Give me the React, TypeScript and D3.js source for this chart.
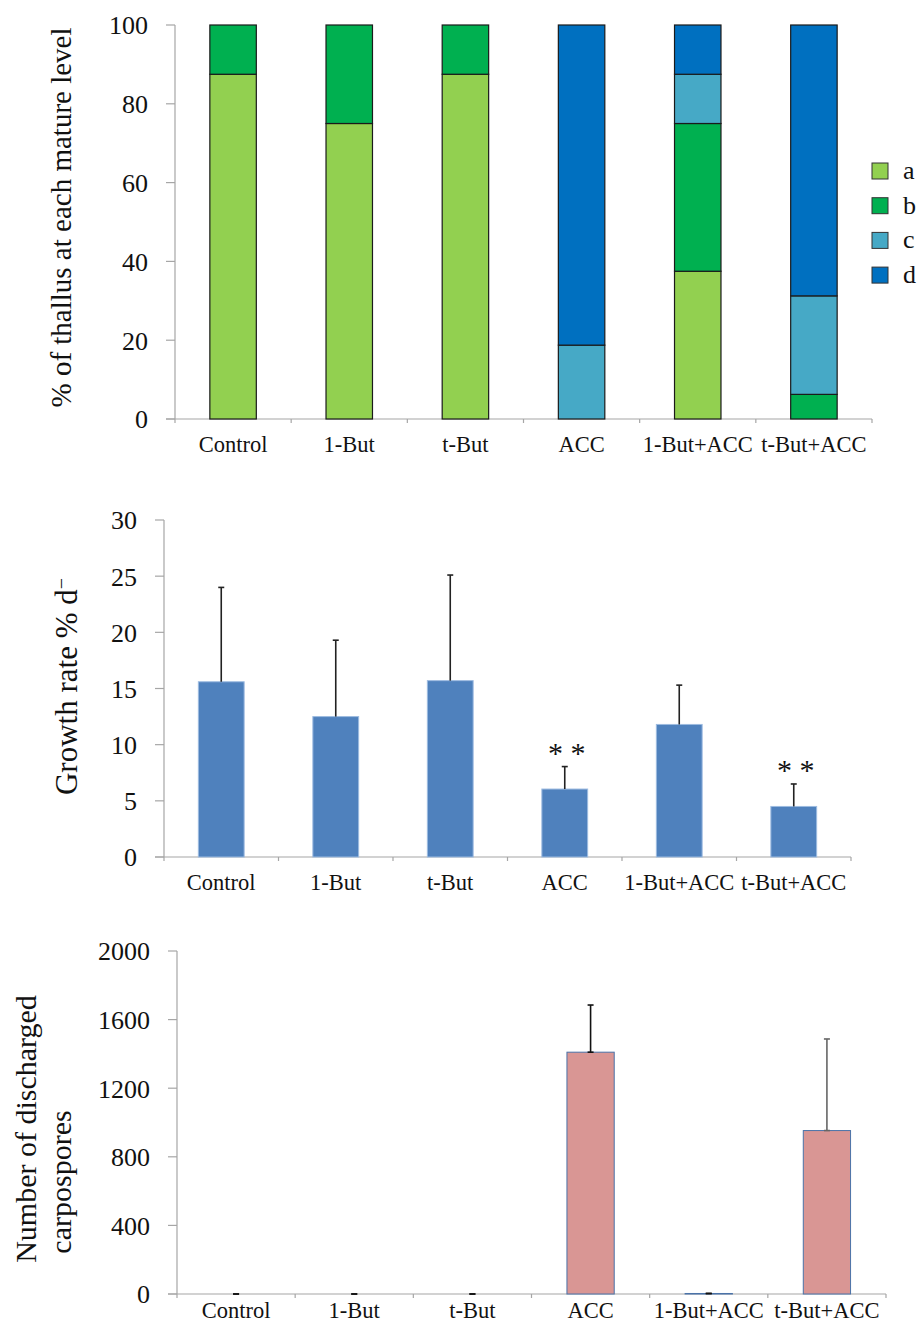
import React from "react";
import * as d3 from "d3";

// Treatments shared by the three panels
const categories = ["Control", "1-But", "t-But", "ACC", "1-But+ACC", "t-But+ACC"];

// Panel A: % of thallus at each maturity level (stacked)
const levelKeys = ["a", "b", "c", "d"];
const levelA = [87.5, 75, 87.5, 0, 37.5, 0];
const levelB = [12.5, 25, 12.5, 0, 37.5, 6.25];
const levelC = [0, 0, 0, 18.75, 12.5, 25];
const levelD = [0, 0, 0, 81.25, 12.5, 68.75];
const levelTicks = [0, 20, 40, 60, 80, 100];

// Panel B: growth rate (mean + SD)
const growthMean = [15.6, 12.5, 15.7, 6.05, 11.8, 4.5];
const growthErr = [8.4, 6.8, 9.4, 2.0, 3.5, 2.0];
const growthTicks = [0, 5, 10, 15, 20, 25, 30];
const significant = ["ACC", "t-But+ACC"];

// Panel C: discharged carpospores (mean + SD)
const carpoMean = [0, 0, 0, 1410, 3, 953];
const carpoErr = [0, 0, 0, 275, 0, 534];
const carpoTicks = [0, 400, 800, 1200, 1600, 2000];

const FONT =
  '"Liberation Serif", "Times New Roman", Times, "Nimbus Roman", "Nimbus Roman No9 L", FreeSerif, "Noto Serif", "DejaVu Serif", Tinos, serif';
const AXIS = "#a6a6a6";
const levelColors: Record<string, string> = {
  a: "#92D050",
  b: "#00B050",
  c: "#46A9C6",
  d: "#0070C0",
};

const txt = (size: number): React.CSSProperties => ({ fontFamily: FONT, fontSize: size });

type Frame = { x0: number; x1: number; y0: number; y1: number };

function Axes({
  f,
  x,
  y,
  ticks,
  labelY,
}: {
  f: Frame;
  x: d3.ScaleBand<string>;
  y: d3.ScaleLinear<number, number>;
  ticks: number[];
  labelY: number;
}) {
  const bounds = categories.map((c) => x(c)!).concat([f.x1]);
  return (
    <g>
      <line x1={f.x0} x2={f.x0} y1={f.y0} y2={f.y1} stroke={AXIS} strokeWidth={1.2} />
      <line x1={f.x0 - 9} x2={f.x1} y1={f.y1} y2={f.y1} stroke={AXIS} strokeWidth={1.2} />
      {ticks.map((t) => (
        <g key={t}>
          <line x1={f.x0 - 9} x2={f.x0} y1={y(t)} y2={y(t)} stroke={AXIS} strokeWidth={1.2} />
          <text x={f.x0 - 27} y={y(t)} dy="0.36em" textAnchor="end" style={txt(26)} fill="#111">
            {t}
          </text>
        </g>
      ))}
      {bounds.map((b, i) => (
        <line key={i} x1={b} x2={b} y1={f.y1} y2={f.y1 + 4} stroke={AXIS} strokeWidth={1.2} />
      ))}
      {categories.map((c) => (
        <text
          key={c}
          x={x(c)! + x.bandwidth() / 2}
          y={labelY}
          textAnchor="middle"
          style={txt(22.5)}
          fill="#111"
        >
          {c}
        </text>
      ))}
    </g>
  );
}

function MaturityPanel() {
  const f: Frame = { x0: 175, x1: 872, y0: 25, y1: 419 };
  const x = d3.scaleBand<string>().domain(categories).range([f.x0, f.x1]).padding(0);
  const y = d3.scaleLinear().domain([0, 100]).range([f.y1, f.y0]);
  const rows = categories.map((c, i) => ({
    cat: c,
    a: levelA[i],
    b: levelB[i],
    c: levelC[i],
    d: levelD[i],
  }));
  const series = d3.stack<any>().keys(levelKeys)(rows);
  const bw = x.bandwidth() * 0.4;
  return (
    <g>
      <Axes f={f} x={x} y={y} ticks={levelTicks} labelY={452} />
      {series.map((s) =>
        s.map((seg, i) => {
          const top = y(seg[1]);
          const bot = y(seg[0]);
          if (bot - top < 0.01) return null;
          const cx = x(categories[i])! + x.bandwidth() / 2;
          return (
            <rect
              key={s.key + i}
              x={cx - bw / 2}
              y={top}
              width={bw}
              height={bot - top}
              fill={levelColors[s.key]}
              stroke="#1a1a1a"
              strokeWidth={1.2}
            />
          );
        })
      )}
      {levelKeys.map((k, i) => (
        <g key={k} transform={`translate(872, ${163 + i * 34.7})`}>
          <rect width={16} height={16} fill={levelColors[k]} stroke="#333" strokeWidth={1} />
          <text x={31} y={16} style={txt(26)} fill="#111">
            {k}
          </text>
        </g>
      ))}
      <text
        transform={`translate(71, ${(f.y0 + 410) / 2}) rotate(-90)`}
        textAnchor="middle"
        style={txt(29)}
        fill="#111"
      >
        % of thallus at each mature level
      </text>
    </g>
  );
}

function GrowthPanel() {
  const f: Frame = { x0: 164, x1: 851, y0: 520, y1: 857 };
  const x = d3.scaleBand<string>().domain(categories).range([f.x0, f.x1]).padding(0);
  const y = d3.scaleLinear().domain([0, 30]).range([f.y1, f.y0]);
  const bw = x.bandwidth() * 0.4;
  return (
    <g>
      <Axes f={f} x={x} y={y} ticks={growthTicks} labelY={890} />
      {categories.map((c, i) => {
        const cx = x(c)! + x.bandwidth() / 2;
        const top = y(growthMean[i]);
        const errTop = y(growthMean[i] + growthErr[i]);
        return (
          <g key={c}>
            <rect
              x={cx - bw / 2}
              y={top}
              width={bw}
              height={f.y1 - top}
              fill="#4F81BD"
              stroke="#9dbbe0"
              strokeWidth={1}
            />
            <line x1={cx} x2={cx} y1={top} y2={errTop} stroke="#222" strokeWidth={1.6} />
            <line x1={cx - 3} x2={cx + 3} y1={errTop} y2={errTop} stroke="#222" strokeWidth={1.6} />
            {significant.includes(c) && (
              <text x={cx + 2} y={errTop - 4} textAnchor="middle" style={txt(30)} fill="#111">
                * *
              </text>
            )}
          </g>
        );
      })}
      <text
        transform={`translate(77, ${(578 + 795) / 2}) rotate(-90)`}
        textAnchor="middle"
        style={txt(31)}
        fill="#111"
      >
        Growth rate % d
        <tspan dy="-0.45em" style={{ fontSize: 20 }}>
          −
        </tspan>
      </text>
    </g>
  );
}

function CarposporePanel() {
  const f: Frame = { x0: 177, x1: 886, y0: 951, y1: 1294 };
  const x = d3.scaleBand<string>().domain(categories).range([f.x0, f.x1]).padding(0);
  const y = d3.scaleLinear().domain([0, 2000]).range([f.y1, f.y0]);
  const bw = x.bandwidth() * 0.4;
  return (
    <g>
      <Axes f={f} x={x} y={y} ticks={carpoTicks} labelY={1318} />
      {categories.map((c, i) => {
        const cx = x(c)! + x.bandwidth() / 2;
        const top = y(carpoMean[i]);
        const errTop = y(carpoMean[i] + carpoErr[i]);
        const errColor = c === "t-But+ACC" ? "#666" : "#111";
        return (
          <g key={c}>
            {carpoMean[i] > 0 && (
              <rect
                x={cx - bw / 2}
                y={top}
                width={bw}
                height={f.y1 - top}
                fill="#D99694"
                stroke="#4a72a8"
                strokeWidth={1}
              />
            )}
            <line x1={cx} x2={cx} y1={top} y2={errTop} stroke={errColor} strokeWidth={1.6} />
            <line x1={cx - 3} x2={cx + 3} y1={errTop} y2={errTop} stroke={errColor} strokeWidth={1.6} />
            <line x1={cx - 3} x2={cx + 3} y1={top} y2={top} stroke={errColor} strokeWidth={1.6} />
          </g>
        );
      })}
      <text transform={`translate(36, 1129) rotate(-90)`} textAnchor="middle" style={txt(30)} fill="#111">
        Number of discharged
      </text>
      <text transform={`translate(71, 1182) rotate(-90)`} textAnchor="middle" style={txt(30)} fill="#111">
        carpospores
      </text>
    </g>
  );
}

export default function App() {
  return (
    <div style={{ position: "absolute", left: 0, top: 0 }}>
      <svg width={921} height={1329} style={{ display: "block", background: "#fff" }}>
        <MaturityPanel />
        <GrowthPanel />
        <CarposporePanel />
      </svg>
    </div>
  );
}
